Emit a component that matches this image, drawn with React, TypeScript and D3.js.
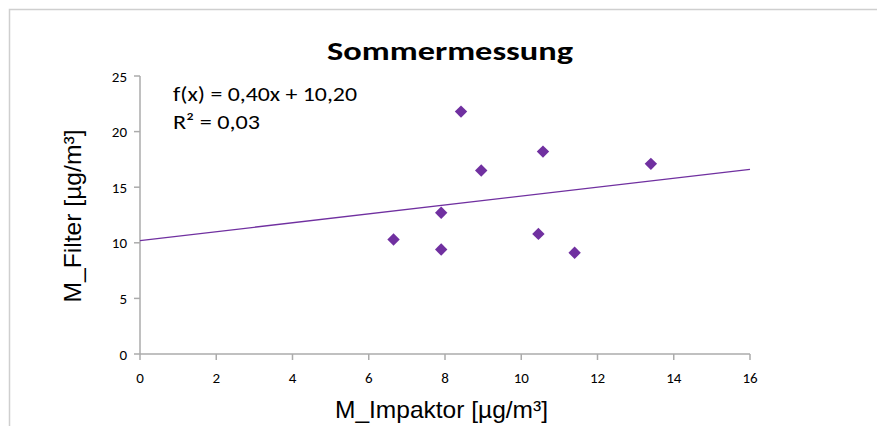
import React from "react";
import * as d3 from "d3";

const impaktor = [6.65, 7.9, 7.9, 8.42, 8.95, 10.57, 10.45, 11.4, 13.4];
const filter = [10.3, 9.4, 12.7, 21.8, 16.5, 18.2, 10.8, 9.1, 17.1];
const xTicks = [0, 2, 4, 6, 8, 10, 12, 14, 16];
const yTicks = [0, 5, 10, 15, 20, 25];
const slope = 0.4;
const intercept = 10.2;
const title = "Sommermessung";
const equation = "f(x) = 0,40x + 10,20";
const rSquared = "R² = 0,03";
const xTitle = "M_Impaktor [µg/m³]";
const yTitle = "M_Filter [µg/m³]";

const W = 877;
const H = 426;
const purple = "#7030a0";
const axisCol = "#ababab";
const font = "Carlito, 'Open Sans', 'Noto Sans', sans-serif";
const narrow = "'Liberation Sans Narrow', 'Liberation Sans', sans-serif";

export default function App() {
  const x = d3.scaleLinear().domain([0, 16]).range([140, 750]);
  const y = d3.scaleLinear().domain([0, 25]).range([354, 76]);
  const diamond = d3.symbol().type(d3.symbolDiamond2).size(98)();
  const line = d3.line<number>().x((v) => x(v)).y((v) => y(slope * v + intercept));
  return (
    <svg width={W} height={H} style={{ position: "absolute", left: 0, top: 0 }}>
      <rect width={W} height={H} fill="#fff" />
      <path d={`M9.5,${H} V9.5 H${W}`} fill="none" stroke="#cfcfcf" strokeWidth={1.5} />
      <text
        x={450}
        y={60}
        textAnchor="middle"
        fontFamily={font}
        fontWeight="bold"
        fontSize={27}
        textLength={246}
        lengthAdjust="spacingAndGlyphs"
        fill="#000"
      >
        {title}
      </text>
      <line x1={x(0)} x2={x(0)} y1={y(25)} y2={y(0)} stroke={axisCol} strokeWidth={1.5} />
      {yTicks.map((t) => (
        <g key={"y" + t}>
          <line x1={x(0) - 6} x2={x(0)} y1={y(t)} y2={y(t)} stroke={axisCol} strokeWidth={1.5} />
          <text x={x(0) - 13} y={y(t) + 5.5} textAnchor="end" fontFamily={font} fontSize={15} fill="#000">
            {t}
          </text>
        </g>
      ))}
      <line x1={x(0)} x2={x(16)} y1={y(0)} y2={y(0)} stroke={axisCol} strokeWidth={1.5} />
      {xTicks.map((t) => (
        <g key={"x" + t}>
          <line x1={x(t)} x2={x(t)} y1={y(0)} y2={y(0) + 6} stroke={axisCol} strokeWidth={1.5} />
          <text x={x(t)} y={y(0) + 29} textAnchor="middle" fontFamily={font} fontSize={15} fill="#000">
            {t}
          </text>
        </g>
      ))}
      <text
        x={441.5}
        y={418}
        textAnchor="middle"
        fontFamily={narrow}
        fontSize={24}
        textLength={213}
        lengthAdjust="spacingAndGlyphs"
        fill="#000"
      >
        {xTitle}
      </text>
      <text
        transform={`translate(81,216) rotate(-90)`}
        textAnchor="middle"
        fontFamily={narrow}
        fontSize={24}
        textLength={173}
        lengthAdjust="spacingAndGlyphs"
        fill="#000"
      >
        {yTitle}
      </text>
      <path d={line([0, 16]) || ""} fill="none" stroke={purple} strokeWidth={1.3} />
      {impaktor.map((v, i) => (
        <path key={i} d={diamond || ""} transform={`translate(${x(v)},${y(filter[i])})`} fill={purple} />
      ))}
      <text x={173} y={101} fontFamily={font} fontSize={20} textLength={184} lengthAdjust="spacingAndGlyphs" fill="#000">
        {equation}
      </text>
      <text x={173} y={129} fontFamily={font} fontSize={20} textLength={87} lengthAdjust="spacingAndGlyphs" fill="#000">
        {rSquared}
      </text>
    </svg>
  );
}
